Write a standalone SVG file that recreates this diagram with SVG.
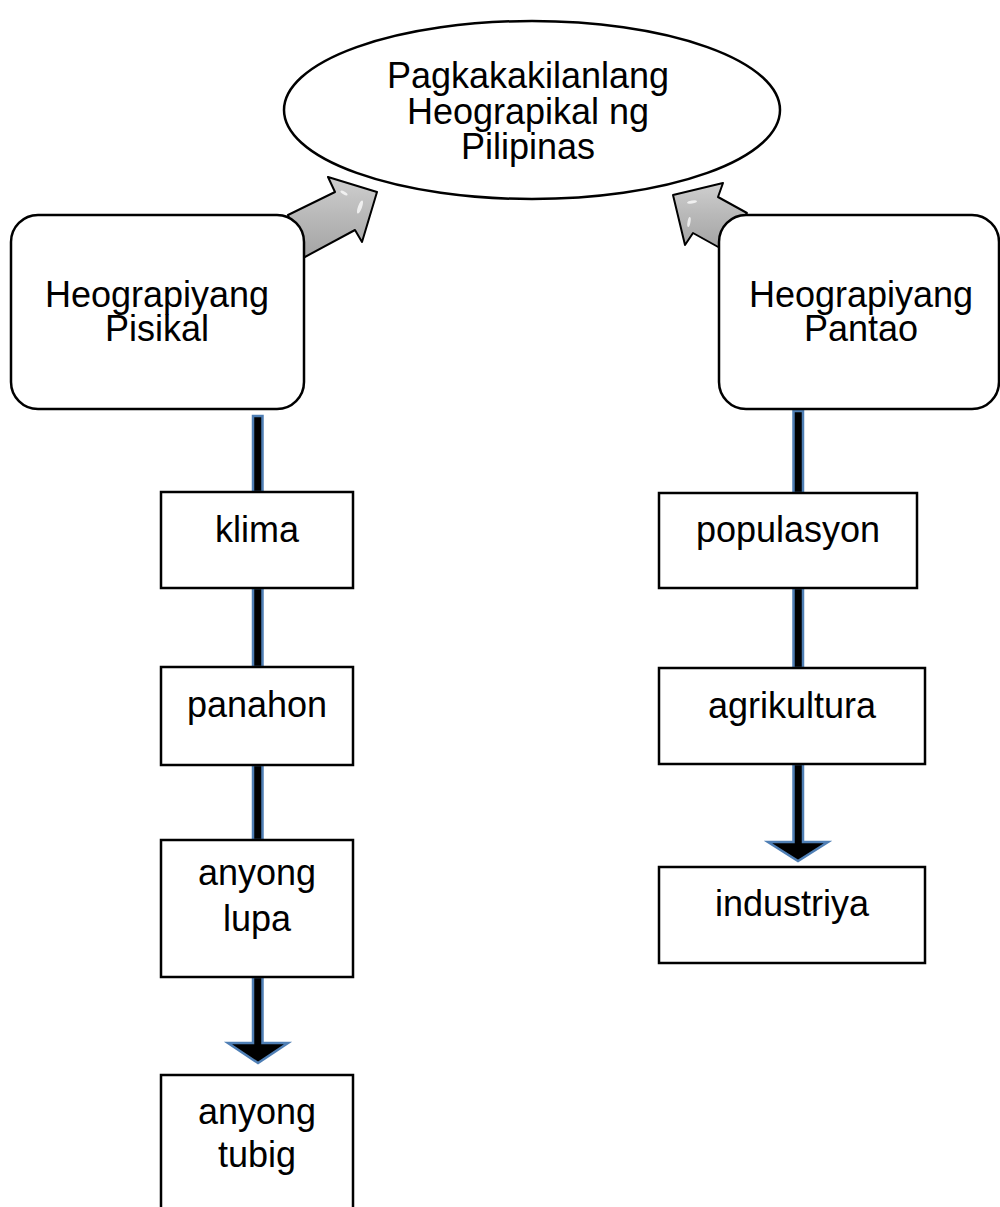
<svg xmlns="http://www.w3.org/2000/svg" width="1000" height="1207" viewBox="0 0 1000 1207">
<defs>
<linearGradient id="gray" x1="0" y1="0" x2="0" y2="1">
<stop offset="0" stop-color="#cfcfcf"/>
<stop offset="0.5" stop-color="#b8b8b8"/>
<stop offset="1" stop-color="#a4a4a4"/>
</linearGradient>
<style>
.t{font-family:"Liberation Sans",Arial,sans-serif;font-size:36px;fill:#000;text-anchor:middle}
.box{fill:#fff;stroke:#000;stroke-width:2.5}
.shaft{fill:#000;stroke:#4f7fb5;stroke-width:2.5}
.big{fill:url(#gray);stroke:#000;stroke-width:2;stroke-linejoin:round}
.gloss{fill:#fff;opacity:0.75}
</style>
</defs>
<rect width="1000" height="1207" fill="#fff"/>
<g id="connectors">
<path class="big" d="M288,215 L335,192 L328,177 L377,192 L362,242 L355,230 L303,258 Z"/>
<ellipse class="gloss" cx="360" cy="207" rx="2" ry="7" transform="rotate(20 360 207)"/>
<ellipse class="gloss" cx="344" cy="193" rx="1.5" ry="4" transform="rotate(-60 344 193)"/>
<path class="big" d="M747,213 L718,197 L723,183 L673,195 L685,245 L693,233 L720,248 Z"/>
<ellipse class="gloss" cx="692" cy="202" rx="1.5" ry="5" transform="rotate(80 692 202)"/>
<ellipse class="gloss" cx="689" cy="222" rx="1.5" ry="5" transform="rotate(10 689 222)"/>
<rect class="shaft" x="253" y="416" width="9.5" height="76"/>
<rect class="shaft" x="253" y="588" width="9.5" height="79"/>
<rect class="shaft" x="253" y="765" width="9.5" height="75"/>
<path class="shaft" d="M253,977 L262.5,977 L262.5,1043 L288,1043 L258,1063 L228,1043 L253,1043 Z"/>
<rect class="shaft" x="793.5" y="411" width="9.5" height="82"/>
<rect class="shaft" x="793.5" y="588" width="9.5" height="80"/>
<path class="shaft" d="M793.5,764 L803,764 L803,842 L828,842 L798,861 L768,842 L793.5,842 Z"/>
</g>
<g id="pagkakakilanlang">
<ellipse class="box" cx="532" cy="110" rx="248" ry="89" stroke-width="2"/>
<text class="t" x="528" y="88">Pagkakakilanlang</text>
<text class="t" x="528" y="124">Heograpikal ng</text>
<text class="t" x="528" y="159">Pilipinas</text>
</g>
<g id="pisikal">
<rect class="box" x="11" y="215" width="293" height="194" rx="27" stroke-width="2"/>
<text class="t" x="157" y="307">Heograpiyang</text>
<text class="t" x="157" y="341">Pisikal</text>
</g>
<g id="pantao">
<rect class="box" x="719" y="215" width="280" height="194" rx="27" stroke-width="2"/>
<text class="t" x="861" y="307">Heograpiyang</text>
<text class="t" x="861" y="341">Pantao</text>
</g>
<g id="klima">
<rect class="box" x="161" y="492" width="192" height="96"/>
<text class="t" x="257" y="542">klima</text>
</g>
<g id="panahon">
<rect class="box" x="161" y="667" width="192" height="98"/>
<text class="t" x="257" y="717">panahon</text>
</g>
<g id="anyong-lupa">
<rect class="box" x="161" y="840" width="192" height="137"/>
<text class="t" x="257" y="885">anyong</text>
<text class="t" x="257" y="931">lupa</text>
</g>
<g id="anyong-tubig">
<rect class="box" x="161" y="1075" width="192" height="140"/>
<text class="t" x="257" y="1124">anyong</text>
<text class="t" x="257" y="1167">tubig</text>
</g>
<g id="populasyon">
<rect class="box" x="659" y="493" width="258" height="95"/>
<text class="t" x="788" y="542">populasyon</text>
</g>
<g id="agrikultura">
<rect class="box" x="659" y="668" width="266" height="96"/>
<text class="t" x="792" y="718">agrikultura</text>
</g>
<g id="industriya">
<rect class="box" x="659" y="867" width="266" height="96"/>
<text class="t" x="792" y="916">industriya</text>
</g>
</svg>
